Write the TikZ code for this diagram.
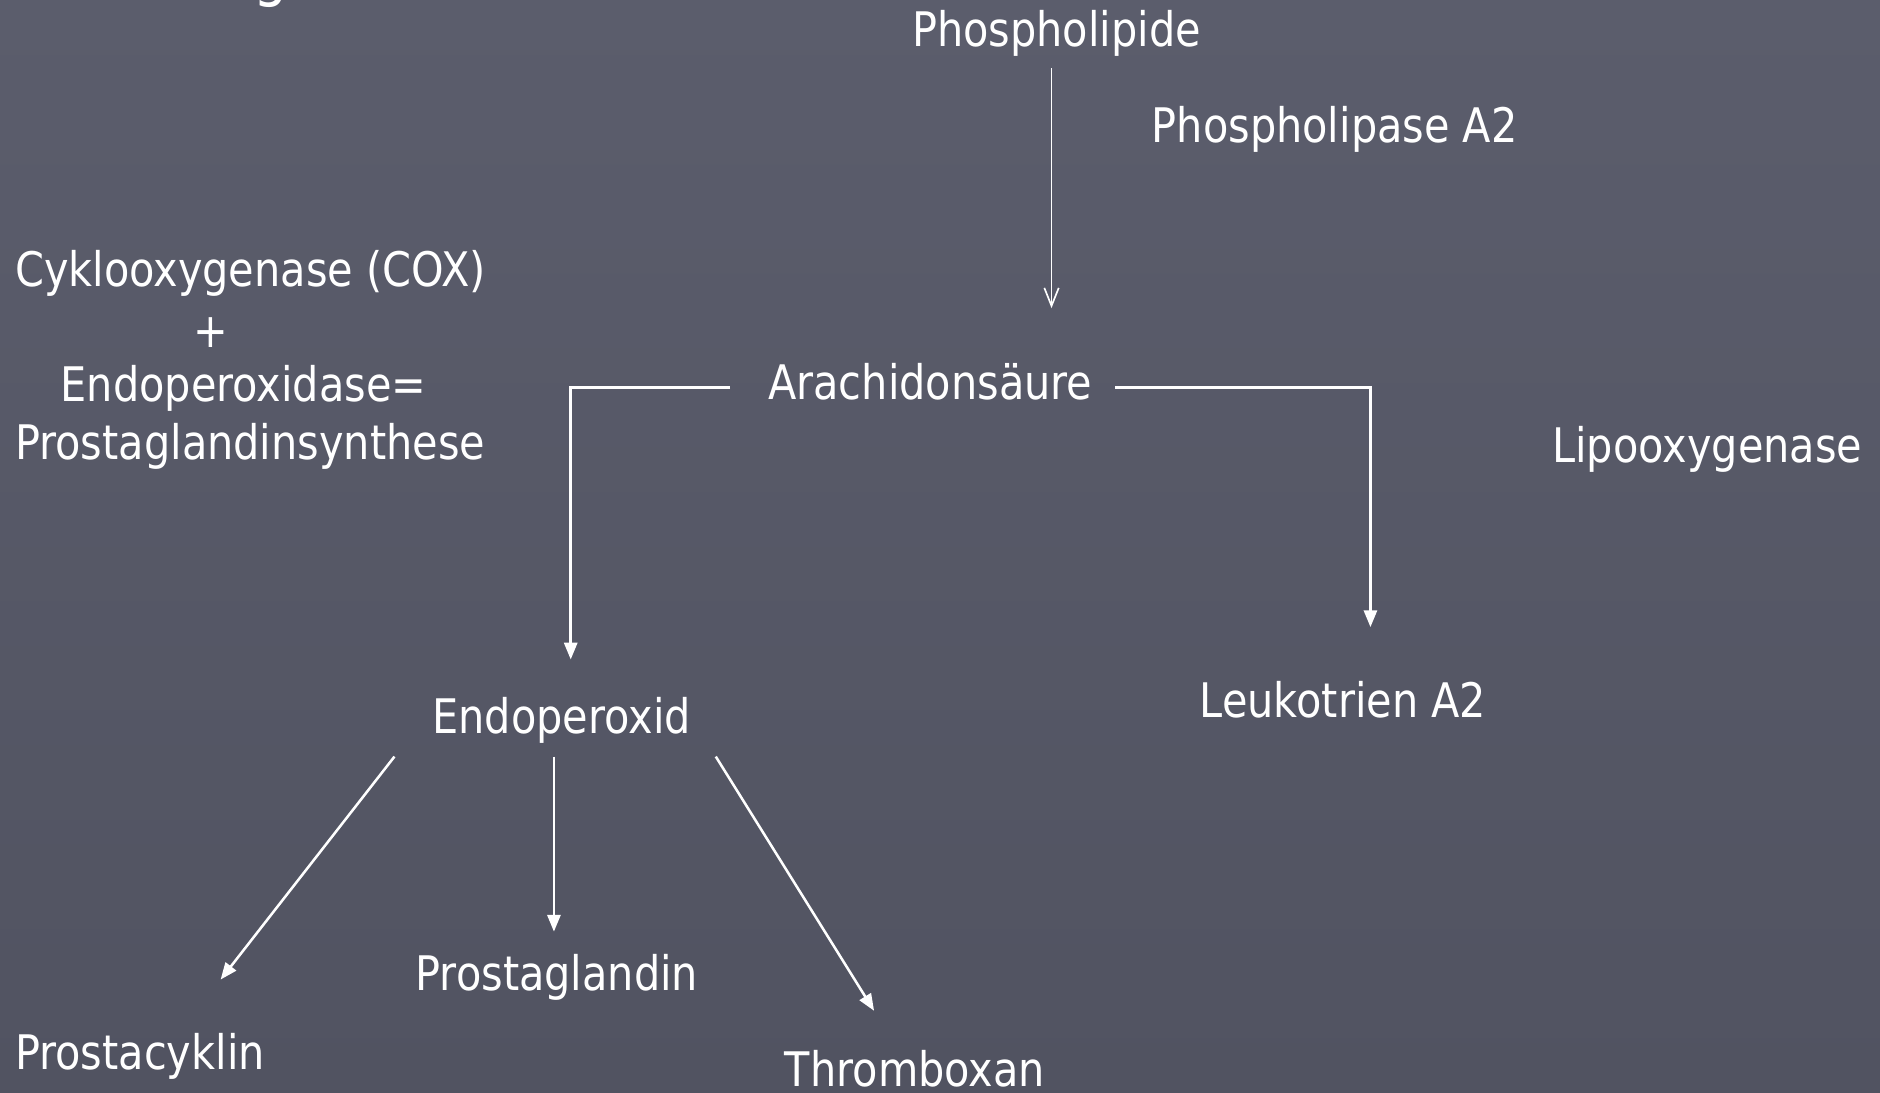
\documentclass[tikz,border=0pt]{standalone}
\usepackage{fontspec}
\setmainfont{DejaVu Sans}[FakeStretch=0.87]
\usepackage{tikz}
\usetikzlibrary{arrows.meta}
\usetikzlibrary{positioning}
\definecolor{slidetop}{RGB}{91,93,108}
\definecolor{slidebot}{RGB}{81,83,97}

\tikzset{
  label/.style={anchor=base west, inner sep=0pt, text=white,
    font=\fontsize{11.3pt}{13.5pt}\selectfont},
  flow/.style={draw=white, line width=0.6pt,
    -{Triangle[length=1.4mm, width=1.1mm]}},
  thin flow/.style={draw=white, line width=0.4pt,
    -{Straight Barb[length=1.5mm, width=1.2mm]}}
}

\begin{document}
\begin{tikzpicture}
      \useasboundingbox (0,0) rectangle (15.68,9.11);
      \clip (0,0) rectangle (15.68,9.11);
      \shade[top color=slidetop, bottom color=slidebot] (0,0) rectangle (15.68,9.11);
      % title, mostly cut off at the top edge
      \node[label, font=\fontsize{14.9pt}{18pt}\selectfont] (title) at (0.69,9.16) {Prostaglandine};
      % substances and enzymes
      \node[label] (phos)  at (7.60,8.72) {Phospholipide};
      \node[label] (pla)   at (9.60,7.92) {Phospholipase A2};
      \node[label] (cox)   at (0.12,6.72) {Cyklooxygenase (COX)};
      \node[label, anchor=base] (plus) at (1.76,6.21) {+};
      \node[label] (endox) at (0.50,5.76) {Endoperoxidase=};
      \node[label] (pgs)   at (0.12,5.28) {Prostaglandinsynthese};
      \node[label] (arach) at (6.40,5.78) {Arachidons\"aure};
      \node[label] (lipo)  at (12.94,5.25) {Lipooxygenase};
      \node[label] (endo)  at (3.60,2.99) {Endoperoxid};
      \node[label] (leuko) at (10.00,3.13) {Leukotrien A2};
      \node[label] (pg)    at (3.46,0.85) {Prostaglandin};
      \node[label] (pc)    at (0.12,0.19) {Prostacyklin};
      \node[label] (tx)    at (6.54,0.05) {Thromboxan};
      % free ends of the arrows
      \coordinate (phos-out)  at (8.77,8.54);
      \coordinate (arach-in)  at (8.77,6.54);
      \coordinate (arach-l)   at (6.09,5.88);
      \coordinate (arach-r)   at (9.30,5.88);
      \coordinate (endo-in)   at (4.76,3.61);
      \coordinate (leuko-in)  at (11.43,3.88);
      \coordinate (endo-l)    at (3.29,2.80);
      \coordinate (endo-m)    at (4.62,2.80);
      \coordinate (endo-r)    at (5.97,2.80);
      \coordinate (pc-in)     at (1.84,0.94);
      \coordinate (pg-in)     at (4.62,1.34);
      \coordinate (tx-in)     at (7.29,0.68);
      % arrows
      \draw[thin flow] (phos-out) -- (arach-in);
      \draw[flow] (arach-l) -| (endo-in);
      \draw[flow] (arach-r) -| (leuko-in);
      \draw[flow] (endo-l) -- (pc-in);
      \draw[flow] (endo-m) -- (pg-in);
      \draw[flow] (endo-r) -- (tx-in);
    \end{tikzpicture}
\end{document}
